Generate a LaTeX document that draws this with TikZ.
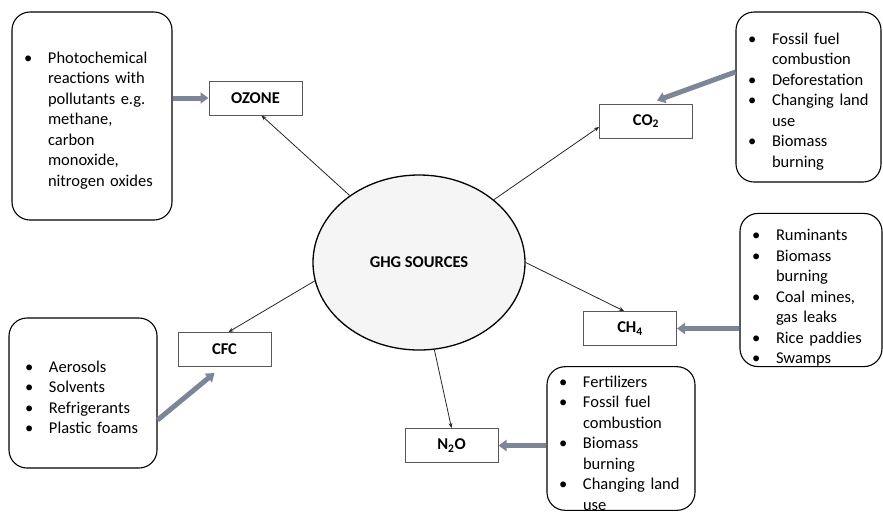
\documentclass[tikz,border=0pt]{standalone}
\usepackage{fontspec}
\setmainfont{Carlito}
\usetikzlibrary{arrows.meta,shapes.geometric}
\definecolor{feedgray}{RGB}{125,134,150}
\setlength{\parskip}{0pt}
\newcommand{\itm}{\par\noindent\hangindent=24pt\hangafter=1\hbox to 24pt{\textbullet\hfil}\ignorespaces}

\begin{document}
\begin{tikzpicture}[x=1pt, y=-1pt,
	src/.style={draw, line width=1.1pt, rounded corners=18pt, inner sep=0pt, font=\fontsize{16.5}{20.5}\selectfont},
	gas/.style={draw=black!65, line width=1pt, minimum width=93pt, minimum height=34pt, inner sep=0pt, font=\fontsize{16.5}{20}\selectfont\bfseries},
	feed/.style={draw=feedgray, line width=5pt, -{Triangle[length=8pt,width=11pt]}},
	link/.style={draw=black!85, line width=0.8pt, -{Stealth[length=5pt,width=4pt]}}]
	\useasboundingbox (0,0) rectangle (883,515);
	\node[ellipse, draw, line width=1.3pt, fill=black!4, minimum width=212pt, minimum height=175pt, inner sep=0pt, font=\fontsize{16.5}{20}\selectfont\bfseries] (ghg) at (419,262.5) {GHG SOURCES};
	\node[gas] (ozone) at (255.5,98)  {OZONE};
	\node[gas] (co2)   at (646,121)   {CO\textsubscript{2}};
	\node[gas] (ch4)   at (630,328.5) {CH\textsubscript{4}};
	\node[gas] (n2o)   at (451.5,445.5) {N\textsubscript{2}O};
	\node[gas] (cfc)   at (224.5,349.5) {CFC};
	\node[src, minimum width=160pt, minimum height=208pt, text width=136pt] (ozsrc) at (92,116) {\itm Photochemical\newline reactions~with\newline pollutants~e.g.\newline methane,\newline carbon\newline monoxide,\newline nitrogen~oxides\par};
	\node[src, minimum width=145pt, minimum height=170pt, text width=121pt] (co2src) at (808.5,97) {\itm Fossil~fuel\newline combustion \itm Deforestation \itm Changing~land\newline use \itm Biomass\newline burning\par};
	\node[src, minimum width=142pt, minimum height=144pt, text width=118pt] (ch4src) at (811,290) {\vspace*{7pt}\itm Ruminants \itm Biomass\newline burning \itm Coal~mines,\newline gas~leaks \itm Rice~paddies \itm Swamps\par};
	\node[src, minimum width=148pt, minimum height=142pt, text width=124pt] (n2osrc) at (621,438.5) {\itm Fertilizers \itm Fossil~fuel\newline combustion \itm Biomass\newline burning \itm Changing~land\newline use\par};
	\node[src, minimum width=148pt, minimum height=150pt, text width=116pt] (cfcsrc) at (83,393) {\itm Aerosols \itm Solvents \itm Refrigerants \itm Plastic~foams\par};
	\draw[link] (ghg.136) -- ([xshift=6pt]ozone.south);
	\draw[link] (ghg.40) -- ([yshift=-6pt]co2.west);
	\draw[link] (ghg.east) -- ([xshift=-6pt]ch4.north);
	\draw[link] (ghg.280) -- (n2o.north);
	\draw[link] (ghg.190) -- ([xshift=4pt]cfc.north);
	\draw[feed] (ozsrc.east |- ozone.west) -- (ozone.west);
	\draw[feed] ([yshift=25pt]co2src.west) -- ([xshift=11pt,yshift=3pt]co2.north);
	\draw[feed] (ch4src.west |- ch4.east) -- (ch4.east);
	\draw[feed] (n2osrc.west |- n2o.east) -- (n2o.east);
	\draw[feed] ([yshift=-27pt]cfcsrc.east) -- ([xshift=-10pt,yshift=-6pt]cfc.south);
\end{tikzpicture}
\end{document}
